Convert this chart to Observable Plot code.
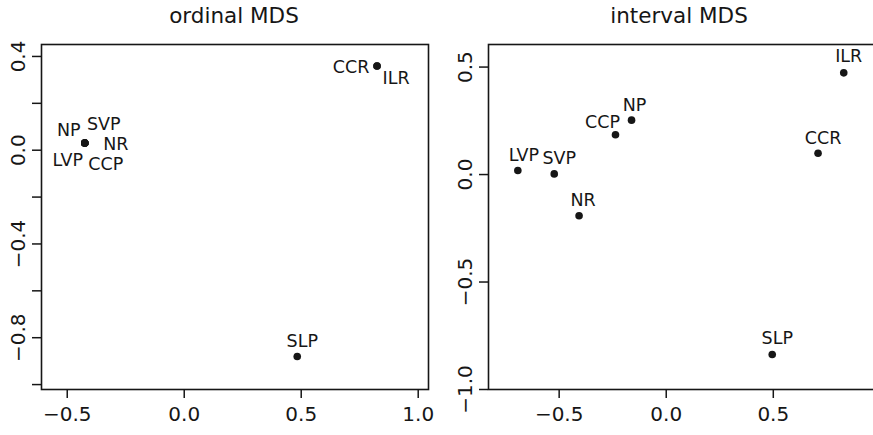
<!DOCTYPE html>
<html>
<head>
<meta charset="utf-8">
<script src="https://cdn.jsdelivr.net/npm/d3@7"></script>
<script src="https://cdn.jsdelivr.net/npm/@observablehq/plot@0.6"></script>
<style>
  html, body { margin: 0; padding: 0; background: white; }
  #wrap { position: relative; width: 873px; height: 435px; overflow: hidden; font-family: "DejaVu Sans", sans-serif; color: #161616; }
  .title { position: absolute; top: 3px; font-size: 21.5px; text-align: center; }
  .panel { position: absolute; top: 30px; }
  .panel svg { max-width: none !important; }
</style>
</head>
<body>
<div id="wrap">
  <div class="title" style="left:0; width:468px;">ordinal MDS</div>
  <div class="title" style="left:437px; width:484px;">interval MDS</div>
  <div class="panel" id="left" style="left:0; width:437px;"></div>
  <div class="panel" id="right" style="left:437px; width:445px;"></div>
</div>
<script>
// ---- data ----
const panelTitles = ["ordinal MDS", "interval MDS"];

const ordinalNames = ["NP", "SVP", "NR", "LVP", "CCP", "CCR", "ILR", "SLP"];
const ordinalX     = [-0.425, -0.425, -0.425, -0.425, -0.425, 0.824, 0.824, 0.483];
const ordinalY     = [0.031, 0.031, 0.031, 0.031, 0.031, 0.359, 0.359, -0.880];

const intervalNames = ["LVP", "SVP", "NR", "CCP", "NP", "CCR", "ILR", "SLP"];
const intervalX     = [-0.693, -0.523, -0.407, -0.237, -0.162, 0.709, 0.829, 0.495];
const intervalY     = [0.019, 0.003, -0.192, 0.185, 0.253, 0.099, 0.473, -0.837];

const leftXTicks  = [-0.5, 0.0, 0.5, 1.0];
const leftYTicks  = [-1.0, -0.8, -0.6, -0.4, -0.2, 0.0, 0.2, 0.4];
const leftYLabels = ["", "\u22120.8", "", "\u22120.4", "", "0.0", "", "0.4"];
const rightXTicks = [-0.5, 0.0, 0.5];
const rightYTicks = [-1.0, -0.5, 0.0, 0.5];
const rightYLabels = ["\u22121.0", "\u22120.5", "0.0", "0.5"];

// ---- styling: label offsets (pixels) ----
const leftOffsets = {
  NP: [-16, -13], SVP: [19, -19], NR: [31, 1], LVP: [-17, 17],
  CCP: [21, 21], CCR: [-26, 1], ILR: [19, 12], SLP: [5, -15]
};
const rightOffsets = {
  LVP: [6, -15], SVP: [5, -16], NR: [4, -15], CCP: [-13, -12],
  NP: [3, -15], CCR: [5, -15], ILR: [5, -16], SLP: [5, -16]
};

const INK = "#161616";

function build(names, xs, ys, offsets, opts) {
  const data = names.map((n, i) => ({name: n, x: xs[i], y: ys[i]}));
  const labelFor = (ticks, labels) => d => {
    const i = ticks.findIndex(t => Math.abs(t - d) < 1e-9);
    return i < 0 ? "" : labels[i];
  };
  const marks = [
    Plot.frame({stroke: INK, strokeWidth: 1.6}),
    Plot.axisX({ticks: opts.xTicks, tickSize: 9, tickPadding: 8, fontSize: 20, label: null,
      tickFormat: d => d3.format(".1f")(d), stroke: INK, strokeWidth: 1.5, fill: INK}),
    Plot.axisY({ticks: opts.yTicks, tickSize: 9, tickPadding: 8, fontSize: 20, label: null, tickRotate: -90,
      tickFormat: labelFor(opts.yTicks, opts.yLabels), stroke: INK, strokeWidth: 1.5, fill: INK}),
    Plot.dot(data, {x: "x", y: "y", r: 3.8, fill: INK, stroke: null})
  ];
  data.forEach(d => {
    const [dx, dy] = offsets[d.name];
    marks.push(Plot.text([d], {x: "x", y: "y", text: "name", dx, dy, fontSize: 17.5, fill: INK, lineAnchor: "middle"}));
  });
  return Plot.plot({
    width: opts.width, height: 405,
    marginLeft: opts.ml, marginRight: opts.mr, marginTop: 14, marginBottom: 46,
    x: {domain: opts.xDomain},
    y: {domain: opts.yDomain},
    style: {fontFamily: "DejaVu Sans, sans-serif", background: "transparent", color: INK, overflow: "visible"},
    marks
  });
}

document.getElementById("left").appendChild(build(ordinalNames, ordinalX, ordinalY, leftOffsets, {
  width: 437, ml: 41, mr: 9, xDomain: [-0.61, 1.044], yDomain: [-1.021, 0.451],
  xTicks: leftXTicks, yTicks: leftYTicks, yLabels: leftYLabels
}));
document.getElementById("right").appendChild(build(intervalNames, intervalX, intervalY, rightOffsets, {
  width: 445, ml: 51, mr: 0, xDomain: [-0.83, 1.01], yDomain: [-1.0, 0.605],
  xTicks: rightXTicks, yTicks: rightYTicks, yLabels: rightYLabels
}));
</script>
</body>
</html>
